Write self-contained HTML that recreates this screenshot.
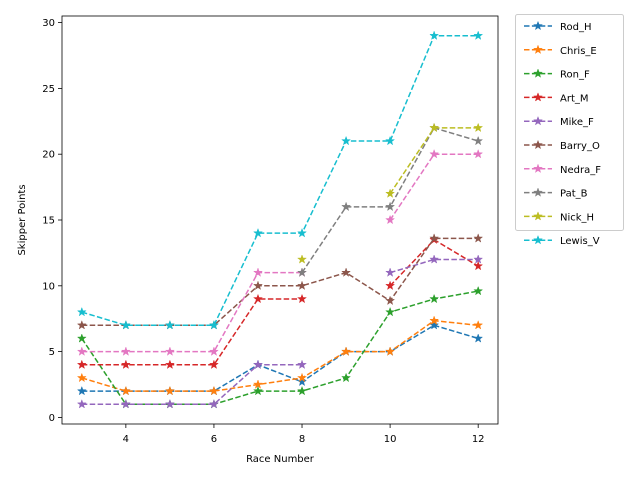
<!DOCTYPE html>
<html><head><meta charset="utf-8"><style>
body{margin:0;background:#fff;font-family:"Liberation Sans","DejaVu Sans",sans-serif}
</style></head><body>
<svg id="chart" width="640" height="480" xmlns="http://www.w3.org/2000/svg" font-family="DejaVu Sans, Liberation Sans, sans-serif"></svg>
<script>
const races=[3,4,5,6,7,8,9,10,11,12];
const names=["Rod_H","Chris_E","Ron_F","Art_M","Mike_F","Barry_O","Nedra_F","Pat_B","Nick_H","Lewis_V"];
const colors=["#1f77b4","#ff7f0e","#2ca02c","#d62728","#9467bd","#8c564b","#e377c2","#7f7f7f","#bcbd22","#17becf"];
const rodH=[2,2,2,2,4,2.7,5,5,7,6];
const chrisE=[3,2,2,2,2.5,3,5,5,7.35,7];
const ronF=[6,1,1,1,2,2,3,8,9,9.6];
const artM=[4,4,4,4,9,9,null,10,13.5,11.5];
const mikeF=[1,1,1,1,4,4,null,11,12,12];
const barryO=[7,7,7,7,10,10,11,8.86,13.6,13.6];
const nedraF=[5,5,5,5,11,11,null,15,20,20];
const patB=[null,null,null,null,null,11,16,16,22,21];
const nickH=[null,null,null,null,null,12,null,17,22,22];
const lewisV=[8,7,7,7,14,14,21,21,29,29];
const series=[rodH,chrisE,ronF,artM,mikeF,barryO,nedraF,patB,nickH,lewisV];
const xTicks=[4,6,8,10,12];
const yTicks=[0,5,10,15,20,25,30];
const L=62,R=498,T=16,B=424,xmin=2.55,xmax=12.45,ymin=-0.5,ymax=30.5;
const sx=v=>L+(v-xmin)/(xmax-xmin)*(R-L);
const sy=v=>B-(v-ymin)/(ymax-ymin)*(B-T);
const svg=document.getElementById('chart');
const NS="http://www.w3.org/2000/svg";
function mk(tag,at,parent){const e=document.createElementNS(NS,tag);for(const k in at)e.setAttribute(k,at[k]);(parent||svg).appendChild(e);return e;}
function star(cx,cy,r){let p=[];for(let i=0;i<10;i++){const a=-Math.PI/2+i*Math.PI/5;const rr=i%2?r*0.4:r;p.push((cx+rr*Math.cos(a)).toFixed(1)+","+(cy+rr*Math.sin(a)).toFixed(1));}return p.join(" ");}
// ticks
xTicks.forEach(t=>{
 const g=mk('g',{});
 
 
 mk('line',{x1:sx(t),x2:sx(t),y1:B,y2:B+4,stroke:'#000','stroke-width':0.8},g);
 const tx=mk('text',{x:sx(t),y:B+18,'text-anchor':'middle','font-size':10},g);tx.textContent=t;
});
yTicks.forEach(t=>{
 const g=mk('g',{});
 
 
 mk('line',{x1:L-4,x2:L,y1:sy(t),y2:sy(t),stroke:'#000','stroke-width':0.8},g);
 const tx=mk('text',{x:L-7,y:sy(t)+3.5,'text-anchor':'end','font-size':10},g);tx.textContent=t;
});
// series
series.forEach((s,i)=>{
 const g=mk('g',{});
 
 
 let segs=[],cur=[];
 s.forEach((v,j)=>{if(v==null){if(cur.length)segs.push(cur);cur=[];}else cur.push([sx(races[j]),sy(v)]);});
 if(cur.length)segs.push(cur);
 segs.forEach(sg=>{if(sg.length>1)mk('polyline',{points:sg.map(p=>p.join(',')).join(' '),fill:'none',stroke:colors[i],'stroke-width':1.5,'stroke-dasharray':'5.5,2.4'},g);});
 s.forEach((v,j)=>{if(v!=null){const m=mk('polygon',{points:star(sx(races[j]),sy(v),4.5),fill:colors[i],stroke:colors[i],'stroke-width':0.5},g);
  }});
});
const frame=mk('rect',{x:L,y:T,width:R-L,height:B-T,fill:'none',stroke:'#000','stroke-width':0.8});

const xl=mk('text',{x:(L+R)/2,y:462,'text-anchor':'middle','font-size':10});xl.textContent='Race Number';

const yl=mk('text',{x:0,y:0,'text-anchor':'middle','font-size':10,transform:`translate(25,${(T+B)/2}) rotate(-90)`});yl.textContent='Skipper Points';

// legend
const lg=mk('g',{});

mk('rect',{x:515.5,y:14.5,width:108,height:216,rx:2,fill:'#fff',stroke:'#ccc','stroke-width':1},lg);
names.forEach((n,i)=>{
 const y=26+i*23.8;
 const e=mk('g',{},lg);
 
 
 mk('line',{x1:524,x2:552,y1:y,y2:y,stroke:colors[i],'stroke-width':1.5,'stroke-dasharray':'5.5,2.4'},e);
 mk('polygon',{points:star(538,y,4.5),fill:colors[i],stroke:colors[i],'stroke-width':0.5},e);
 const t=mk('text',{x:560,y:y+4,'font-size':10},e);t.textContent=n;
});
</script>
</body></html>
